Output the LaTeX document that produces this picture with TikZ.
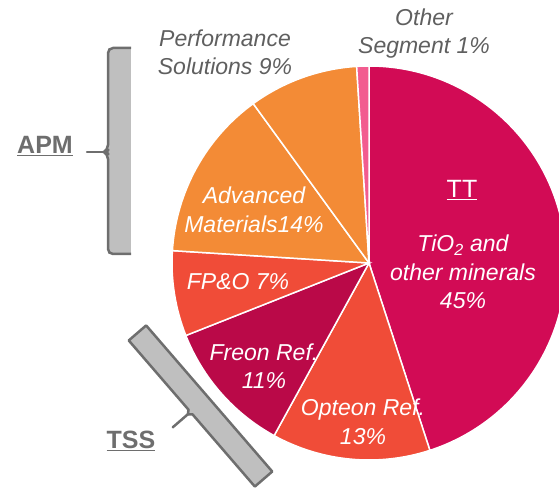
\documentclass[tikz,border=0pt]{standalone}
\usepackage{fontspec}
\setmainfont{Liberation Sans}
\definecolor{ttred}{HTML}{D20B55}
\definecolor{opteonred}{HTML}{F04C38}
\definecolor{freonred}{HTML}{BA0948}
\definecolor{apmorange}{HTML}{F38B36}
\definecolor{otherpink}{HTML}{F25C8F}
\definecolor{labelgray}{HTML}{5F5F5F}
\definecolor{barfill}{HTML}{BFBFBF}
\definecolor{baredge}{HTML}{6E6E6E}
\begin{document}
\begin{tikzpicture}[x=1pt,y=1pt,
    part/.style={draw=white, line width=1.5pt},
    inlabel/.style={text=white, align=center, font=\fontsize{23}{28.5}\selectfont\itshape},
    outlabel/.style={text=labelgray, align=center, font=\fontsize{23}{28}\selectfont\itshape},
    segname/.style={text=baredge, font=\fontsize{25}{28}\selectfont\bfseries},
    bracket/.style={fill=barfill, draw=baredge, line width=2.5pt, line join=round},
    spike/.style={draw=baredge, line width=2.5pt, line cap=round}]
        \useasboundingbox (0,0) rectangle (559,487);
        \clip (0,0) rectangle (559,487);
        \coordinate (c) at (369,224);
        %Secteurs
        \filldraw [part, fill=ttred] (c) -- ++(90:197) arc (90:-72:197) -- cycle;
        \filldraw [part, fill=opteonred] (c) -- ++(-72:197) arc (-72:-118.8:197) -- cycle;
        \filldraw [part, fill=freonred] (c) -- ++(-118.8:197) arc (-118.8:-158.4:197) -- cycle;
        \filldraw [part, fill=opteonred] (c) -- ++(-158.4:197) arc (-158.4:-183.6:197) -- cycle;
        \filldraw [part, fill=apmorange] (c) -- ++(-183.6:197) arc (-183.6:-234:197) -- cycle;
        \filldraw [part, fill=apmorange] (c) -- ++(-234:197) arc (-234:-266.4:197) -- cycle;
        \filldraw [part, fill=otherpink] (c) -- ++(-266.4:197) arc (-266.4:-270:197) -- cycle;
        %Textes des secteurs
        \node [text=white, font=\fontsize{25}{28}\selectfont] (tt) at (462,297) {\underline{TT}};
        \node [inlabel] (tio) at (463,215) {TiO\textsubscript{2} and\\other minerals\\45\%};
        \node [inlabel] (opteon) at (363,65) {Opteon Ref.\\13\%};
        \node [inlabel] (freon) at (264,121) {Freon Ref.\\11\%};
        \node [inlabel] (fpo) at (238,205) {FP\&O 7\%};
        \node [inlabel] (advanced) at (254,277) {Advanced\\Materials14\%};
        \node [outlabel] (performance) at (225,435) {Performance\\Solutions 9\%};
        \node [outlabel] (other) at (424,453) {Other\\Segment 1\%};
        %Accolades
        \fill [barfill] (131,439) -- (108,439) -- (108,233) -- (131,233) -- cycle;
        \draw [bracket, fill=none, rounded corners=5pt] (131,439) -- (108,439) -- (108,337) -- (104,335) -- (108,333) -- (108,233) -- (131,233);
        \draw [spike] (105,335) -- (87,335);
        \begin{scope}[shift={(200.5,81)}, rotate=-49.2]
        \filldraw [bracket] (-96.5,-11.5) -- (-5,-11.5) -- (-2,-15) -- (1,-11.5) -- (96.5,-11.5) -- (96.5,11.5) -- (-96.5,11.5) -- cycle;
        \draw [spike] (-2,-14) -- (-2,-35);
        \end{scope}
        %Segments
        \node [segname] (apm) at (45,341) {\underline{APM}};
        \node [segname] (tss) at (131,46) {\underline{TSS}};
\end{tikzpicture}
\end{document}
